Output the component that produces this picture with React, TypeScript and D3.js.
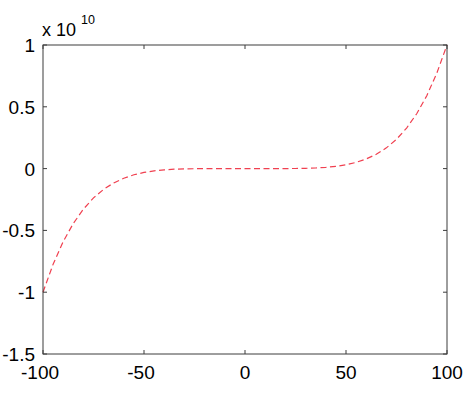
import React from "react";
import * as d3 from "d3";

const xValues = [
  -100, -95, -90, -85, -80, -75, -70, -65, -60, -55, -50, -45, -40, -35, -30, -25, -20, -15, -10, -5,
  0, 5, 10, 15, 20, 25, 30, 35, 40, 45, 50, 55, 60, 65, 70, 75, 80, 85, 90, 95, 100,
];
const yValues = [
  -1, -0.774, -0.59, -0.444, -0.328, -0.237, -0.168, -0.116, -0.078, -0.05, -0.031, -0.018, -0.01,
  -0.005, -0.0024, -0.001, -0.0003, -0.0001, 0, 0,
  0, 0, 0, 0.0001, 0.0003, 0.001, 0.0024, 0.005, 0.01, 0.018, 0.031, 0.05, 0.078, 0.116, 0.168,
  0.237, 0.328, 0.444, 0.59, 0.774, 1,
];
const xTicks = [-100, -50, 0, 50, 100];
const yTicks = [-1.5, -1, -0.5, 0, 0.5, 1];
const exponentLabel = "x 10";
const exponentPower = "10";

const W = 474;
const H = 401;
const m = { left: 43, right: 447, top: 45, bottom: 354 };
const font = "Arial, 'Liberation Sans', sans-serif";
const axisColor = "#3c3c3c";

export default function App() {
  const x = d3.scaleLinear().domain([-100, 100]).range([m.left, m.right]);
  const y = d3.scaleLinear().domain([-1.5, 1]).range([m.bottom, m.top]);
  const pts: [number, number][] = xValues.map((v, i) => [v, yValues[i]]);
  const line = d3
    .line<[number, number]>()
    .x((d) => x(d[0]))
    .y((d) => y(d[1]));
  const tl = 4;
  return (
    <svg
      width={W}
      height={H}
      style={{ position: "absolute", left: 0, top: 0, background: "#fff" }}
    >
      <rect x={0} y={0} width={W} height={H} fill="#fff" />
      <path
        d={line(pts) || ""}
        fill="none"
        stroke="#f04050"
        strokeWidth={1.2}
        strokeDasharray="6,3.5"
      />
      <rect
        x={m.left}
        y={m.top}
        width={m.right - m.left}
        height={m.bottom - m.top}
        fill="none"
        stroke={axisColor}
        strokeWidth={1}
      />
      {xTicks.map((t) => (
        <g key={"x" + t}>
          <line x1={x(t)} x2={x(t)} y1={m.bottom} y2={m.bottom - tl} stroke={axisColor} />
          <line x1={x(t)} x2={x(t)} y1={m.top} y2={m.top + tl} stroke={axisColor} />
          <text
            x={x(t) - (t < 0 ? 3 : 0)}
            y={379}
            textAnchor="middle"
            fontFamily={font}
            fontSize={19}
            fill="#000"
          >
            {String(t)}
          </text>
        </g>
      ))}
      {yTicks.map((t) => (
        <g key={"y" + t}>
          <line x1={m.left} x2={m.left + tl} y1={y(t)} y2={y(t)} stroke={axisColor} />
          <line x1={m.right} x2={m.right - tl} y1={y(t)} y2={y(t)} stroke={axisColor} />
          <text
            x={35}
            y={y(t) + 7}
            textAnchor="end"
            fontFamily={font}
            fontSize={19}
            fill="#000"
          >
            {String(t)}
          </text>
        </g>
      ))}
      <text x={42} y={36} fontFamily={font} fontSize={18} fill="#000">
        {exponentLabel}
      </text>
      <text x={81} y={24} fontFamily={font} fontSize={12.5} fill="#000">
        {exponentPower}
      </text>
    </svg>
  );
}
